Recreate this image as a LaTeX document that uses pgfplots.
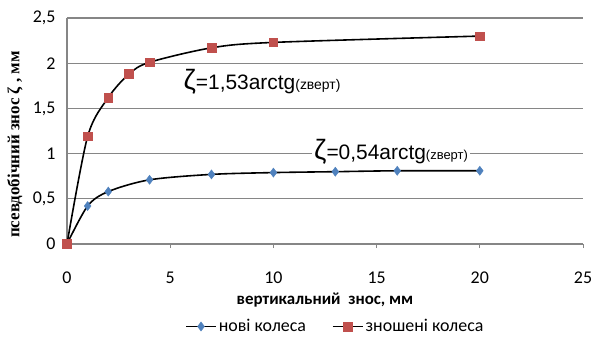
\documentclass[border=0pt]{standalone}
\usepackage{fontspec}
\setmainfont{Carlito}
\newfontfamily\arial{Liberation Sans}
\newfontfamily\tnr{Liberation Serif}
\usepackage{pgfplots}
\pgfplotsset{compat=1.18}
\definecolor{exred}{HTML}{C0504D}
\definecolor{exblue}{HTML}{4F81BD}
\definecolor{gridgray}{HTML}{868686}
\begin{document}
\begin{tikzpicture}
\useasboundingbox (-67bp,-96bp) rectangle (524bp,244bp);
\begin{axis}[
  at={(0,0)}, anchor=south west,
  scale only axis, width=516bp, height=226bp,
  xmin=0, xmax=25, ymin=0, ymax=2.5,
  xtick={0,5,...,25}, ytick={0,0.5,...,2.5},
  axis lines*=left,
  ymajorgrids,
  grid style={gridgray, line width=1.1pt},
  axis line style={gridgray, line width=1.1pt},
  ytick style={draw=none},
  xtick style={gridgray, line width=0.8pt},
  major tick length=4bp, tick align=outside,
  /pgf/number format/.cd, use comma, assume math mode=true, /pgfplots/.cd,
  ticklabel style={font=\fontsize{18}{20}\selectfont},
  xticklabel style={yshift=-20bp},
  yticklabel style={xshift=-4bp},
  xlabel={вертикальний\ \ знос, мм},
  xlabel style={font=\fontsize{17}{19}\selectfont\bfseries, at={(axis description cs:0.5,-0.25)}, anchor=center},
  ylabel={псевдобічний знос ζ , мм},
  ylabel style={font=\fontsize{17}{19}\selectfont\tnr\bfseries, at={(axis description cs:-0.1008,0.44)}, anchor=center, rotate=0},
  legend columns=2,
  legend style={at={(axis description cs:0.52,-0.365)}, anchor=center, draw=none, font=\fontsize{18}{20}\selectfont, /tikz/every even column/.append style={column sep=24bp}},
  legend image code/.code={\draw[#1] (0bp,0bp) -- (30bp,0bp); \draw[#1, mark repeat=2, mark phase=2] plot coordinates {(0bp,0bp) (15bp,0bp) (30bp,0bp)};},
  clip=false,
]
\addplot[black, line width=1.6pt, smooth, tension=0.5, mark=diamond*, mark size=4.5bp, mark options={solid, fill=exblue, draw=exblue, line width=0.5pt}]
  coordinates {(0,0) (1,0.42) (2,0.58) (4,0.71) (7,0.77) (10,0.79) (13,0.80) (16,0.81) (20,0.81)};
\addlegendentry{нові колеса}
\addplot[black, line width=1.6pt, smooth, tension=0.5, mark=square*, mark size=4.3bp, mark options={solid, fill=exred, draw=exred, line width=0.5pt}]
  coordinates {(0,0) (1,1.19) (2,1.62) (3,1.88) (4,2.01) (7,2.17) (10,2.23) (20,2.30)};
\addlegendentry{зношені колеса}
\node[anchor=center, inner sep=1bp] at (axis cs:9.45,1.79) {{\arial\fontsize{28}{28}\selectfont ζ}{\arial\fontsize{21}{21}\selectfont =1,53arctg}{\arial\fontsize{14}{14}\selectfont(zверт)}};
\node[anchor=center, fill=white, inner sep=2bp] at (axis cs:15.7,1.02) {{\arial\fontsize{28}{28}\selectfont ζ}{\arial\fontsize{21}{21}\selectfont =0,54arctg}{\arial\fontsize{13}{13}\selectfont(zверт)}};
\end{axis}
\end{tikzpicture}
\end{document}
